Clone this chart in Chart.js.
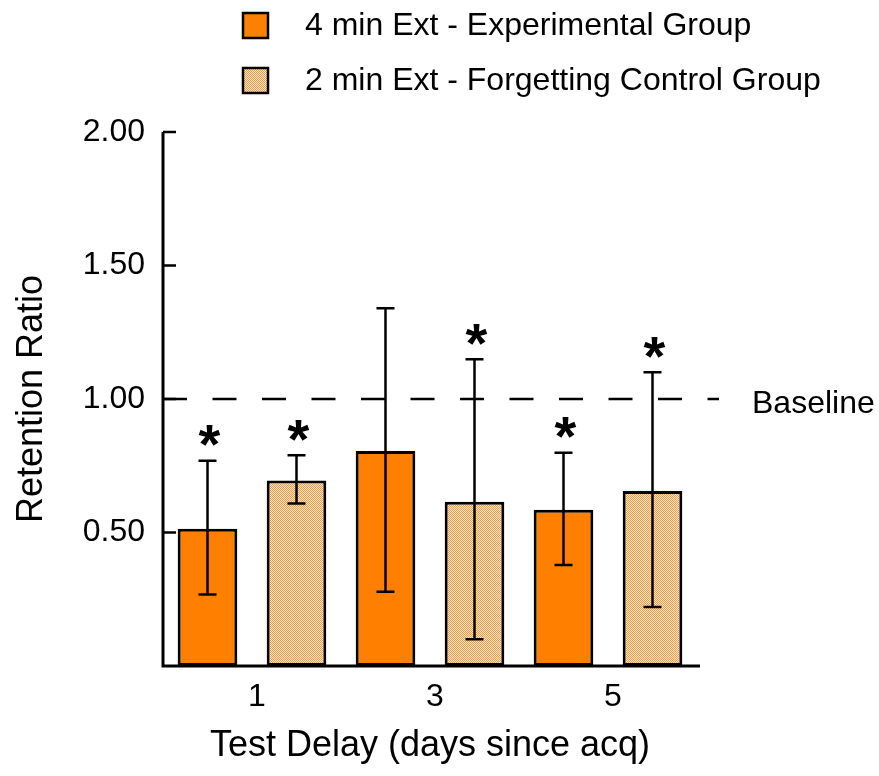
<!DOCTYPE html>
<html>
<head>
<meta charset="utf-8">
<script src="https://cdn.jsdelivr.net/npm/chart.js@4/dist/chart.umd.min.js"></script>
<style>
html,body{margin:0;padding:0;background:#fff;}
#wrap{width:879px;height:776px;position:relative;}
</style>
</head>
<body>
<div id="wrap"><canvas id="c" width="879" height="776"></canvas></div>
<script>
// ---- data ----
const categories = ['1', '3', '5'];
const seriesNames = ['4 min Ext - Experimental Group', '2 min Ext - Forgetting Control Group'];
const expMeans = [0.514, 0.805, 0.585];
const expErrHigh = [0.769, 1.340, 0.799];
const expErrLow = [0.268, 0.278, 0.378];
const ctlMeans = [0.695, 0.615, 0.655];
const ctlErrHigh = [0.789, 1.149, 1.100];
const ctlErrLow = [0.609, 0.100, 0.221];
const expSig = [true, false, true];
const ctlSig = [true, true, true];
const yTicks = [0.5, 1.0, 1.5, 2.0];
const baselineValue = 1.0;
const baselineLabel = 'Baseline';

// ---- styles ----
const FONT = 'Arial, "Liberation Sans", Helvetica, sans-serif';
const ORANGE = '#FF8000';
function makeHatch() {
  const p = document.createElement('canvas');
  p.width = 2; p.height = 2;
  const g = p.getContext('2d');
  g.fillStyle = '#FFE9D2';
  g.fillRect(0, 0, 2, 2);
  g.fillStyle = '#FA9A3E';
  g.fillRect(0, 0, 1, 1);
  g.fillRect(1, 1, 1, 1);
  return g.createPattern(p, 'repeat');
}
const hatch = makeHatch();

const errData = [
  {high: expErrHigh, low: expErrLow, sig: expSig},
  {high: ctlErrHigh, low: ctlErrLow, sig: ctlSig}
];

const overlay = {
  id: 'overlay',
  afterDatasetsDraw(chart) {
    const ctx = chart.ctx;
    const y = chart.scales.y;
    const area = chart.chartArea;
    ctx.save();
    // baseline dashed line
    const by = y.getPixelForValue(baselineValue);
    ctx.strokeStyle = '#000';
    ctx.lineWidth = 2.5;
    ctx.setLineDash([24, 25.5]);
    ctx.beginPath();
    ctx.moveTo(area.left, by);
    ctx.lineTo(area.right + 22, by);
    ctx.stroke();
    ctx.setLineDash([]);
    ctx.fillStyle = '#000';
    ctx.font = '32px ' + FONT;
    ctx.textBaseline = 'middle';
    ctx.textAlign = 'left';
    ctx.fillText(baselineLabel, 752, by + 5);

    // error bars and asterisks
    errData.forEach((e, di) => {
      const meta = chart.getDatasetMeta(di);
      meta.data.forEach((bar, i) => {
        const cx = bar.x;
        const yh = y.getPixelForValue(e.high[i]);
        const yl = y.getPixelForValue(e.low[i]);
        ctx.strokeStyle = '#000';
        ctx.lineWidth = 2.5;
        ctx.beginPath();
        ctx.moveTo(cx, yh); ctx.lineTo(cx, yl);
        ctx.moveTo(cx - 9, yh); ctx.lineTo(cx + 9, yh);
        ctx.moveTo(cx - 9, yl); ctx.lineTo(cx + 9, yl);
        ctx.stroke();
        if (e.sig[i]) {
          ctx.font = 'bold 56px ' + FONT;
          ctx.textAlign = 'center';
          ctx.textBaseline = 'alphabetic';
          const m = ctx.measureText('*');
          const asc = m.actualBoundingBoxAscent, desc = m.actualBoundingBoxDescent;
          const centerY = yh - 25;
          ctx.fillText('*', cx + 2, centerY + (asc - desc) / 2);
        }
      });
    });

    // axis lines and inward ticks
    ctx.strokeStyle = '#000';
    ctx.lineWidth = 3;
    ctx.beginPath();
    ctx.moveTo(area.left, area.top);
    ctx.lineTo(area.left, area.bottom);
    ctx.lineTo(area.right + 3, area.bottom);
    ctx.stroke();
    ctx.lineWidth = 2.5;
    ctx.beginPath();
    yTicks.forEach(v => {
      const ty = y.getPixelForValue(v);
      ctx.moveTo(area.left, ty);
      ctx.lineTo(area.left + 13, ty);
    });
    ctx.stroke();

    // legend
    const legY = [25, 80];
    chart.data.datasets.forEach((ds, i) => {
      ctx.fillStyle = ds.backgroundColor;
      ctx.fillRect(243, legY[i] - 12, 25, 25);
      ctx.strokeStyle = '#000';
      ctx.lineWidth = 2.5;
      ctx.strokeRect(243, legY[i] - 12, 25, 25);
      ctx.fillStyle = '#000';
      ctx.font = '32px ' + FONT;
      ctx.textAlign = 'left';
      ctx.textBaseline = 'middle';
      ctx.fillText(ds.label, 305, legY[i] + 1);
    });
    ctx.restore();
  }
};

new Chart(document.getElementById('c'), {
  type: 'bar',
  data: {
    labels: categories,
    datasets: [
      {label: seriesNames[0], data: expMeans, backgroundColor: ORANGE, borderColor: '#000', borderWidth: 3, borderSkipped: false},
      {label: seriesNames[1], data: ctlMeans, backgroundColor: hatch, borderColor: '#000', borderWidth: 3, borderSkipped: false}
    ]
  },
  plugins: [overlay],
  options: {
    responsive: false,
    animation: false,
    devicePixelRatio: 1,
    layout: {padding: {left: 0, right: 182, top: 132, bottom: 0}},
    plugins: {legend: {display: false}, tooltip: {enabled: false}},
    datasets: {bar: {barPercentage: 0.67, categoryPercentage: 1.0}},
    scales: {
      x: {
        grid: {display: false, drawTicks: false},
        border: {display: false},
        ticks: {color: '#000', font: {family: FONT, size: 32}, padding: 12, labelOffset: 5},
        title: {display: true, text: 'Test Delay (days since acq)', color: '#000', font: {family: FONT, size: 36}, padding: {top: 0, bottom: 8}},
        afterFit: s => { s.height = 110; }
      },
      y: {
        min: 0, max: 2,
        grid: {display: false, drawTicks: false},
        border: {display: false},
        afterBuildTicks: s => { s.ticks = yTicks.map(v => ({value: v})); },
        ticks: {color: '#000', font: {family: FONT, size: 32}, padding: 18, callback: v => Number(v).toFixed(2)},
        title: {display: true, text: 'Retention Ratio', color: '#000', font: {family: FONT, size: 36}, padding: {top: 10, bottom: 0}},
        afterFit: s => { s.width = 163; }
      }
    }
  }
});
</script>
</body>
</html>
